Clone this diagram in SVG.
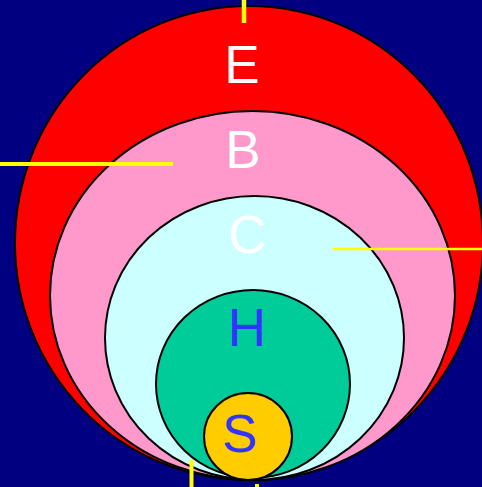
<svg xmlns="http://www.w3.org/2000/svg" width="482" height="487" viewBox="0 0 482 487">
<style>
.c{stroke:#000;stroke-width:2}
.t{font-family:"Liberation Sans",Arial,sans-serif;font-size:53px;text-anchor:middle}
.w{fill:#fff}
.b{fill:#3333ff}
.y{stroke:#ffff00;fill:none}
</style>
<rect width="482" height="487" fill="#000080"/>
<g id="E"><ellipse class="c" cx="249" cy="243" rx="234" ry="237" fill="#ff0000"/><text class="t w" x="242" y="83">E</text></g>
<g id="B"><ellipse class="c" cx="252.5" cy="295.5" rx="202.5" ry="184.5" fill="#ff99cc"/><text class="t w" x="243" y="168">B</text></g>
<g id="C"><ellipse class="c" cx="254.5" cy="338" rx="149.5" ry="142" fill="#ccffff"/><text class="t w" x="247.5" y="253">C</text></g>
<g id="H"><ellipse class="c" cx="253" cy="384" rx="97" ry="94" fill="#00cc99"/><text class="t b" x="247" y="346">H</text></g>
<g id="S"><ellipse class="c" cx="248" cy="436.5" rx="44" ry="43.5" fill="#ffcc00"/><text class="t b" x="240" y="452">S</text></g>
<g id="connectors">
<line class="y" x1="244" y1="0" x2="244" y2="23" stroke-width="4.5"/>
<line class="y" x1="0" y1="164" x2="173" y2="164" stroke-width="4"/>
<line class="y" x1="333" y1="249" x2="482" y2="249" stroke-width="2.5"/>
<line class="y" x1="191.5" y1="460" x2="191.5" y2="487" stroke-width="4"/>
<line class="y" x1="257" y1="484" x2="257" y2="487" stroke-width="4"/>
</g>
</svg>
